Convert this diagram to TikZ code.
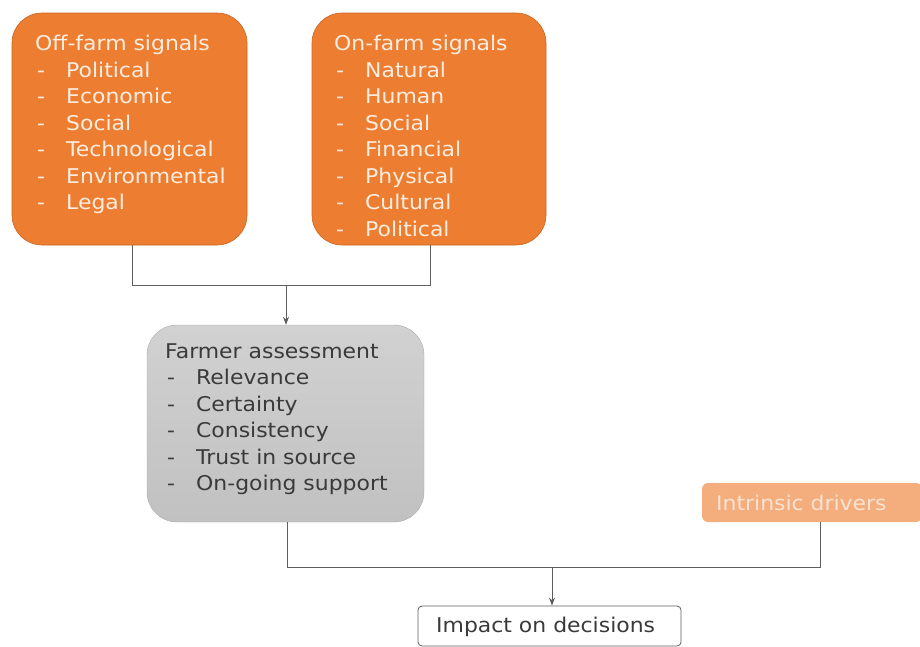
\documentclass[tikz,border=0pt]{standalone}
\usepackage{fontspec}
\setmainfont[FakeStretch=1.08]{DejaVu Sans}
\usetikzlibrary{arrows.meta}
\definecolor{orangeA}{HTML}{ED7D31}
\definecolor{orangeB}{HTML}{C8651F}
\definecolor{orangeL}{HTML}{F4AD7D}
\definecolor{creamT}{HTML}{FDEEE2}
\definecolor{creamL}{HTML}{FBE3D2}
\definecolor{greyA}{HTML}{C9C9C9}
\definecolor{greyT}{HTML}{3A3A3A}
\definecolor{lineC}{HTML}{5E5E5E}
\tikzset{
  x=1pt, y=-1pt,
  obox/.style={draw=orangeB, line width=0.6pt, fill=orangeA, rounded corners=30pt, inner sep=0pt},
  gbox/.style={draw=greyA!85!black, line width=0.4pt, top color=greyA!85!white, bottom color=greyA!96!black, rounded corners=30pt, inner sep=0pt},
  lbox/.style={fill=orangeL, rounded corners=6pt, inner sep=0pt},
  wbox/.style={draw=lineC, line width=0.8pt, fill=white, rounded corners=4pt, inner sep=0pt},
  txt/.style={anchor=north west, inner sep=0pt, align=left, font=\fontsize{20.3}{26.5}\selectfont},
  conn/.style={draw=lineC, line width=0.8pt},
  arr/.style={conn, -{Stealth[length=8pt,width=6pt]}},
}
\newcommand{\itm}[1]{\makebox[31pt][l]{\hspace{2pt}-}#1}
\begin{document}
\begin{tikzpicture}
\useasboundingbox (0,0) rectangle (920,646);
% boxes
\node[obox, minimum width=235pt, minimum height=232pt] (off) at (129.5,129) {};
\node[obox, minimum width=234pt, minimum height=232pt] (on) at (429,129) {};
\node[gbox, minimum width=277pt, minimum height=197pt] (farm) at (285.5,423.5) {};
\node[lbox, minimum width=220pt, minimum height=39pt] (intr) at (812,502.5) {};
\node[wbox, minimum width=263pt, minimum height=40pt] (imp) at (549.5,626) {};
% texts
\node[txt, text=creamT] (offt) at (35,35) {Off-farm signals\\\itm{Political}\\\itm{Economic}\\\itm{Social}\\\itm{Technological}\\\itm{Environmental}\\\itm{Legal}};
\node[txt, text=creamT] (ont) at (334,35) {On-farm signals\\\itm{Natural}\\\itm{Human}\\\itm{Social}\\\itm{Financial}\\\itm{Physical}\\\itm{Cultural}\\\itm{Political}};
\node[txt, text=greyT] (farmt) at (165,343) {Farmer assessment\\\itm{Relevance}\\\itm{Certainty}\\\itm{Consistency}\\\itm{Trust in source}\\\itm{On-going support}};
\node[anchor=west, inner sep=0pt, text=creamL, font=\fontsize{20.3}{24}\selectfont] (intrt) at (716,503) {Intrinsic drivers};
\node[anchor=west, inner sep=0pt, text=greyT, font=\fontsize{20.3}{24}\selectfont] (impt) at (436,627) {Impact on decisions};
% connectors
\coordinate (j1) at (286,285);
\coordinate (j2) at (552,567);
\draw[conn] (132,0 |- off.south) -- (132,285) -- (430,285) -- (430,0 |- on.south);
\draw[arr] (j1) -- (j1 |- farm.north);
\draw[conn] (287,0 |- farm.south) -- (287,567) -- (820,567) -- (820,0 |- intr.south);
\draw[arr] (j2) -- (j2 |- imp.north);
\end{tikzpicture}
\end{document}
